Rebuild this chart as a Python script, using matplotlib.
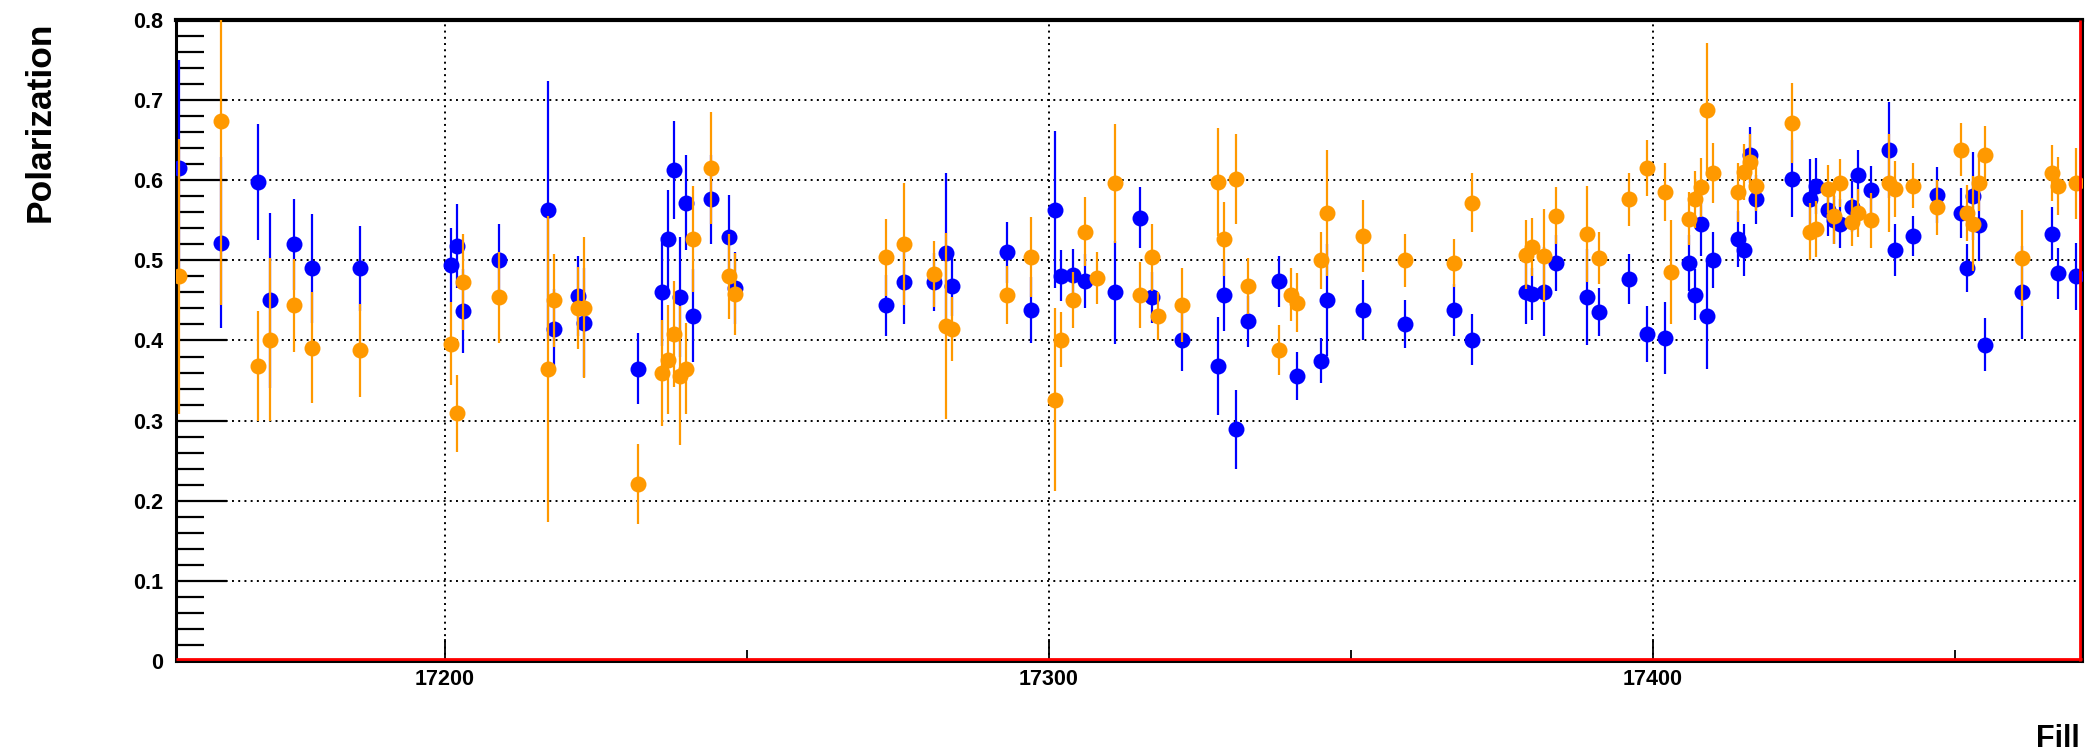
import matplotlib
matplotlib.use("Agg")
import matplotlib.pyplot as plt
from matplotlib import font_manager
from matplotlib.ticker import MultipleLocator, FuncFormatter
from matplotlib.transforms import offset_copy

# ---------------- data ----------------
blue_fill = [17156, 17163, 17169, 17171, 17175, 17178, 17186, 17201, 17202, 17203, 17209,
             17217, 17218, 17222, 17223, 17232, 17236, 17237, 17238, 17239, 17240, 17241,
             17244, 17247, 17248, 17273, 17276, 17281, 17283, 17284, 17293, 17297, 17301,
             17302, 17304, 17306, 17311, 17315, 17317, 17322, 17328, 17329, 17331, 17333,
             17338, 17341, 17345, 17346, 17352, 17359, 17367, 17370, 17379, 17380, 17382,
             17384, 17389, 17391, 17396, 17399, 17402, 17406, 17407, 17408, 17409, 17410,
             17414, 17415, 17416, 17417, 17423, 17426, 17427, 17429, 17430, 17431, 17433,
             17434, 17436, 17439, 17440, 17443, 17447, 17451, 17452, 17453, 17454, 17455,
             17461, 17466, 17467, 17470]
blue_pol = [0.615, 0.522, 0.598, 0.450, 0.520, 0.490, 0.490, 0.494, 0.518, 0.437, 0.500,
            0.563, 0.414, 0.456, 0.422, 0.365, 0.461, 0.527, 0.613, 0.454, 0.572, 0.431,
            0.576, 0.529, 0.465, 0.444, 0.473, 0.473, 0.509, 0.468, 0.510, 0.438, 0.563,
            0.481, 0.482, 0.474, 0.460, 0.553, 0.454, 0.401, 0.368, 0.457, 0.289, 0.424,
            0.474, 0.356, 0.375, 0.451, 0.438, 0.421, 0.438, 0.401, 0.460, 0.458, 0.461,
            0.497, 0.454, 0.435, 0.477, 0.408, 0.403, 0.497, 0.457, 0.546, 0.431, 0.500,
            0.527, 0.513, 0.631, 0.576, 0.602, 0.576, 0.593, 0.563, 0.550, 0.546, 0.567,
            0.606, 0.588, 0.638, 0.513, 0.530, 0.582, 0.559, 0.490, 0.580, 0.544, 0.395,
            0.460, 0.533, 0.484, 0.480]
blue_err = [0.135, 0.107, 0.072, 0.109, 0.057, 0.068, 0.053, 0.046, 0.052, 0.052, 0.046,
            0.161, 0.050, 0.050, 0.068, 0.044, 0.068, 0.061, 0.061, 0.075, 0.059, 0.058,
            0.056, 0.053, 0.045, 0.038, 0.052, 0.036, 0.100, 0.038, 0.038, 0.041, 0.098,
            0.032, 0.032, 0.034, 0.064, 0.038, 0.032, 0.039, 0.061, 0.045, 0.049, 0.032,
            0.032, 0.030, 0.028, 0.070, 0.038, 0.030, 0.032, 0.032, 0.040, 0.033, 0.056,
            0.035, 0.060, 0.030, 0.031, 0.035, 0.045, 0.035, 0.032, 0.040, 0.066, 0.035,
            0.035, 0.032, 0.035, 0.030, 0.048, 0.050, 0.035, 0.032, 0.030, 0.030, 0.032,
            0.032, 0.030, 0.060, 0.033, 0.025, 0.035, 0.031, 0.030, 0.055, 0.045, 0.033,
            0.058, 0.033, 0.032, 0.042]

orange_fill = [17156, 17163, 17169, 17171, 17175, 17178, 17186, 17201, 17202, 17203, 17209,
               17217, 17218, 17222, 17223, 17232, 17236, 17237, 17238, 17239, 17240, 17241,
               17244, 17247, 17248, 17273, 17276, 17281, 17283, 17284, 17293, 17297, 17301,
               17302, 17304, 17306, 17308, 17311, 17315, 17317, 17318, 17322, 17328, 17329,
               17331, 17333, 17338, 17340, 17341, 17345, 17346, 17352, 17359, 17367, 17370,
               17379, 17380, 17382, 17384, 17389, 17391, 17396, 17399, 17402, 17403, 17406,
               17407, 17408, 17409, 17410, 17414, 17415, 17416, 17417, 17423, 17426, 17427,
               17429, 17430, 17431, 17433, 17434, 17436, 17439, 17440, 17443, 17447, 17451,
               17452, 17453, 17454, 17455, 17461, 17466, 17467, 17470]
orange_pol = [0.480, 0.674, 0.368, 0.401, 0.444, 0.391, 0.388, 0.396, 0.309, 0.473, 0.454,
              0.365, 0.450, 0.441, 0.441, 0.221, 0.359, 0.376, 0.408, 0.356, 0.365, 0.527,
              0.615, 0.480, 0.458, 0.504, 0.520, 0.483, 0.418, 0.414, 0.457, 0.504, 0.326,
              0.401, 0.451, 0.536, 0.478, 0.596, 0.457, 0.504, 0.430, 0.444, 0.598, 0.527,
              0.602, 0.468, 0.388, 0.457, 0.447, 0.500, 0.559, 0.530, 0.500, 0.497, 0.572,
              0.507, 0.517, 0.506, 0.556, 0.533, 0.503, 0.576, 0.615, 0.585, 0.486, 0.552,
              0.576, 0.591, 0.688, 0.609, 0.585, 0.610, 0.623, 0.593, 0.671, 0.536, 0.539,
              0.589, 0.556, 0.596, 0.548, 0.559, 0.550, 0.597, 0.589, 0.593, 0.566, 0.638,
              0.559, 0.546, 0.597, 0.632, 0.503, 0.609, 0.593, 0.596]
orange_err = [0.172, 0.230, 0.069, 0.102, 0.058, 0.069, 0.058, 0.052, 0.048, 0.060, 0.057,
              0.191, 0.058, 0.051, 0.088, 0.050, 0.066, 0.068, 0.066, 0.087, 0.057, 0.066,
              0.070, 0.053, 0.051, 0.048, 0.076, 0.041, 0.116, 0.040, 0.036, 0.050, 0.114,
              0.034, 0.035, 0.043, 0.033, 0.074, 0.041, 0.042, 0.030, 0.046, 0.067, 0.046,
              0.056, 0.035, 0.031, 0.033, 0.037, 0.036, 0.079, 0.045, 0.033, 0.030, 0.037,
              0.043, 0.036, 0.058, 0.035, 0.060, 0.033, 0.033, 0.035, 0.036, 0.065, 0.033,
              0.035, 0.037, 0.083, 0.037, 0.037, 0.035, 0.035, 0.031, 0.050, 0.036, 0.035,
              0.030, 0.036, 0.030, 0.030, 0.030, 0.034, 0.061, 0.035, 0.028, 0.034, 0.033,
              0.035, 0.059, 0.035, 0.036, 0.060, 0.035, 0.036, 0.044]

y_ticks = [0.0, 0.1, 0.2, 0.3, 0.4, 0.5, 0.6, 0.7, 0.8]
x_ticks = [17200, 17300, 17400]
x_label = "Fill"
y_label = "Polarization"

BLUE = "#0000FF"
ORANGE = "#FF9900"
SANS = ["Liberation Sans", "DejaVu Sans"]
installed = {f.name for f in font_manager.fontManager.ttflist}
if "Liberation Sans Narrow" in installed:
    NARROW = ["Liberation Sans Narrow", "Liberation Sans", "DejaVu Sans"]
    tick_fs, fill_fs = 18.5, 24.5
else:
    NARROW = SANS
    tick_fs, fill_fs = 15.5, 22

W, H = 2090, 755
fig = plt.figure(figsize=(W / 100, H / 100), dpi=100)
fig.patch.set_facecolor("white")
L, R, T, B = 176, 2082, 20, 661
ax = fig.add_axes([L / W, 1 - B / H, (R - L) / W, (B - T) / H])

ax.set_xlim(17155.5, 17471)
ax.set_ylim(0, 0.8)

ekw = dict(fmt="o", markersize=11.5, elinewidth=1.6, capsize=4.2, capthick=2.0)
ax.errorbar(blue_fill, blue_pol, yerr=blue_err, color=BLUE, ecolor=BLUE,
            markeredgewidth=0, zorder=3, **ekw)
ax.errorbar(orange_fill, orange_pol, yerr=orange_err, color=ORANGE, ecolor=ORANGE,
            markeredgewidth=0, zorder=4, **ekw)

# grid
ax.set_axisbelow(True)
ax.grid(True, which="major", color="black", linestyle=(0, (1, 2.2)), linewidth=1.4)

# ticks
ax.set_yticks(y_ticks)
ax.yaxis.set_minor_locator(MultipleLocator(0.02))
ax.yaxis.set_major_formatter(FuncFormatter(lambda v, p: "0" if abs(v) < 1e-9 else f"{v:.1f}"))
ax.set_xticks(x_ticks)
ax.xaxis.set_minor_locator(MultipleLocator(50))
ax.tick_params(axis="y", which="major", direction="in", length=37, width=1.6, pad=9,
               labelsize=tick_fs, left=True, right=False)
ax.tick_params(axis="y", which="minor", direction="in", length=20, width=1.6, left=True, right=False)
ax.tick_params(axis="x", which="major", direction="in", length=16, width=1.3, pad=6,
               labelsize=tick_fs, bottom=True, top=False)
ax.tick_params(axis="x", which="minor", direction="in", length=8, width=1.3, bottom=True, top=False)
for lab in ax.get_yticklabels() + ax.get_xticklabels():
    lab.set_fontweight("bold")
    lab.set_family(NARROW)

# frame
for s in ax.spines.values():
    s.set_color("black")
    s.set_linewidth(2.2)
ax.spines["top"].set_linewidth(3.0)
tr_up = offset_copy(ax.transAxes, fig=fig, x=0, y=2.2, units="dots")
tr_left = offset_copy(ax.transAxes, fig=fig, x=-2.2, y=0, units="dots")
ax.plot([0, 1], [0, 0], transform=tr_up, color="red", lw=2.0, clip_on=False, zorder=6,
        solid_capstyle="butt")
ax.plot([1, 1], [0, 1], transform=tr_left, color="red", lw=2.0, clip_on=False, zorder=6,
        solid_capstyle="butt")

# axis titles
fig.text(40 / W, 1 - 122 / H, y_label, rotation=90, ha="center", va="center",
         fontsize=25.5, fontweight="bold", family=SANS)
fig.text(2080 / W, 1 - 739 / H, x_label, ha="right", va="center",
         fontsize=fill_fs, fontweight="bold", family=NARROW)

fig.savefig("out.png", dpi=100, facecolor="white")
